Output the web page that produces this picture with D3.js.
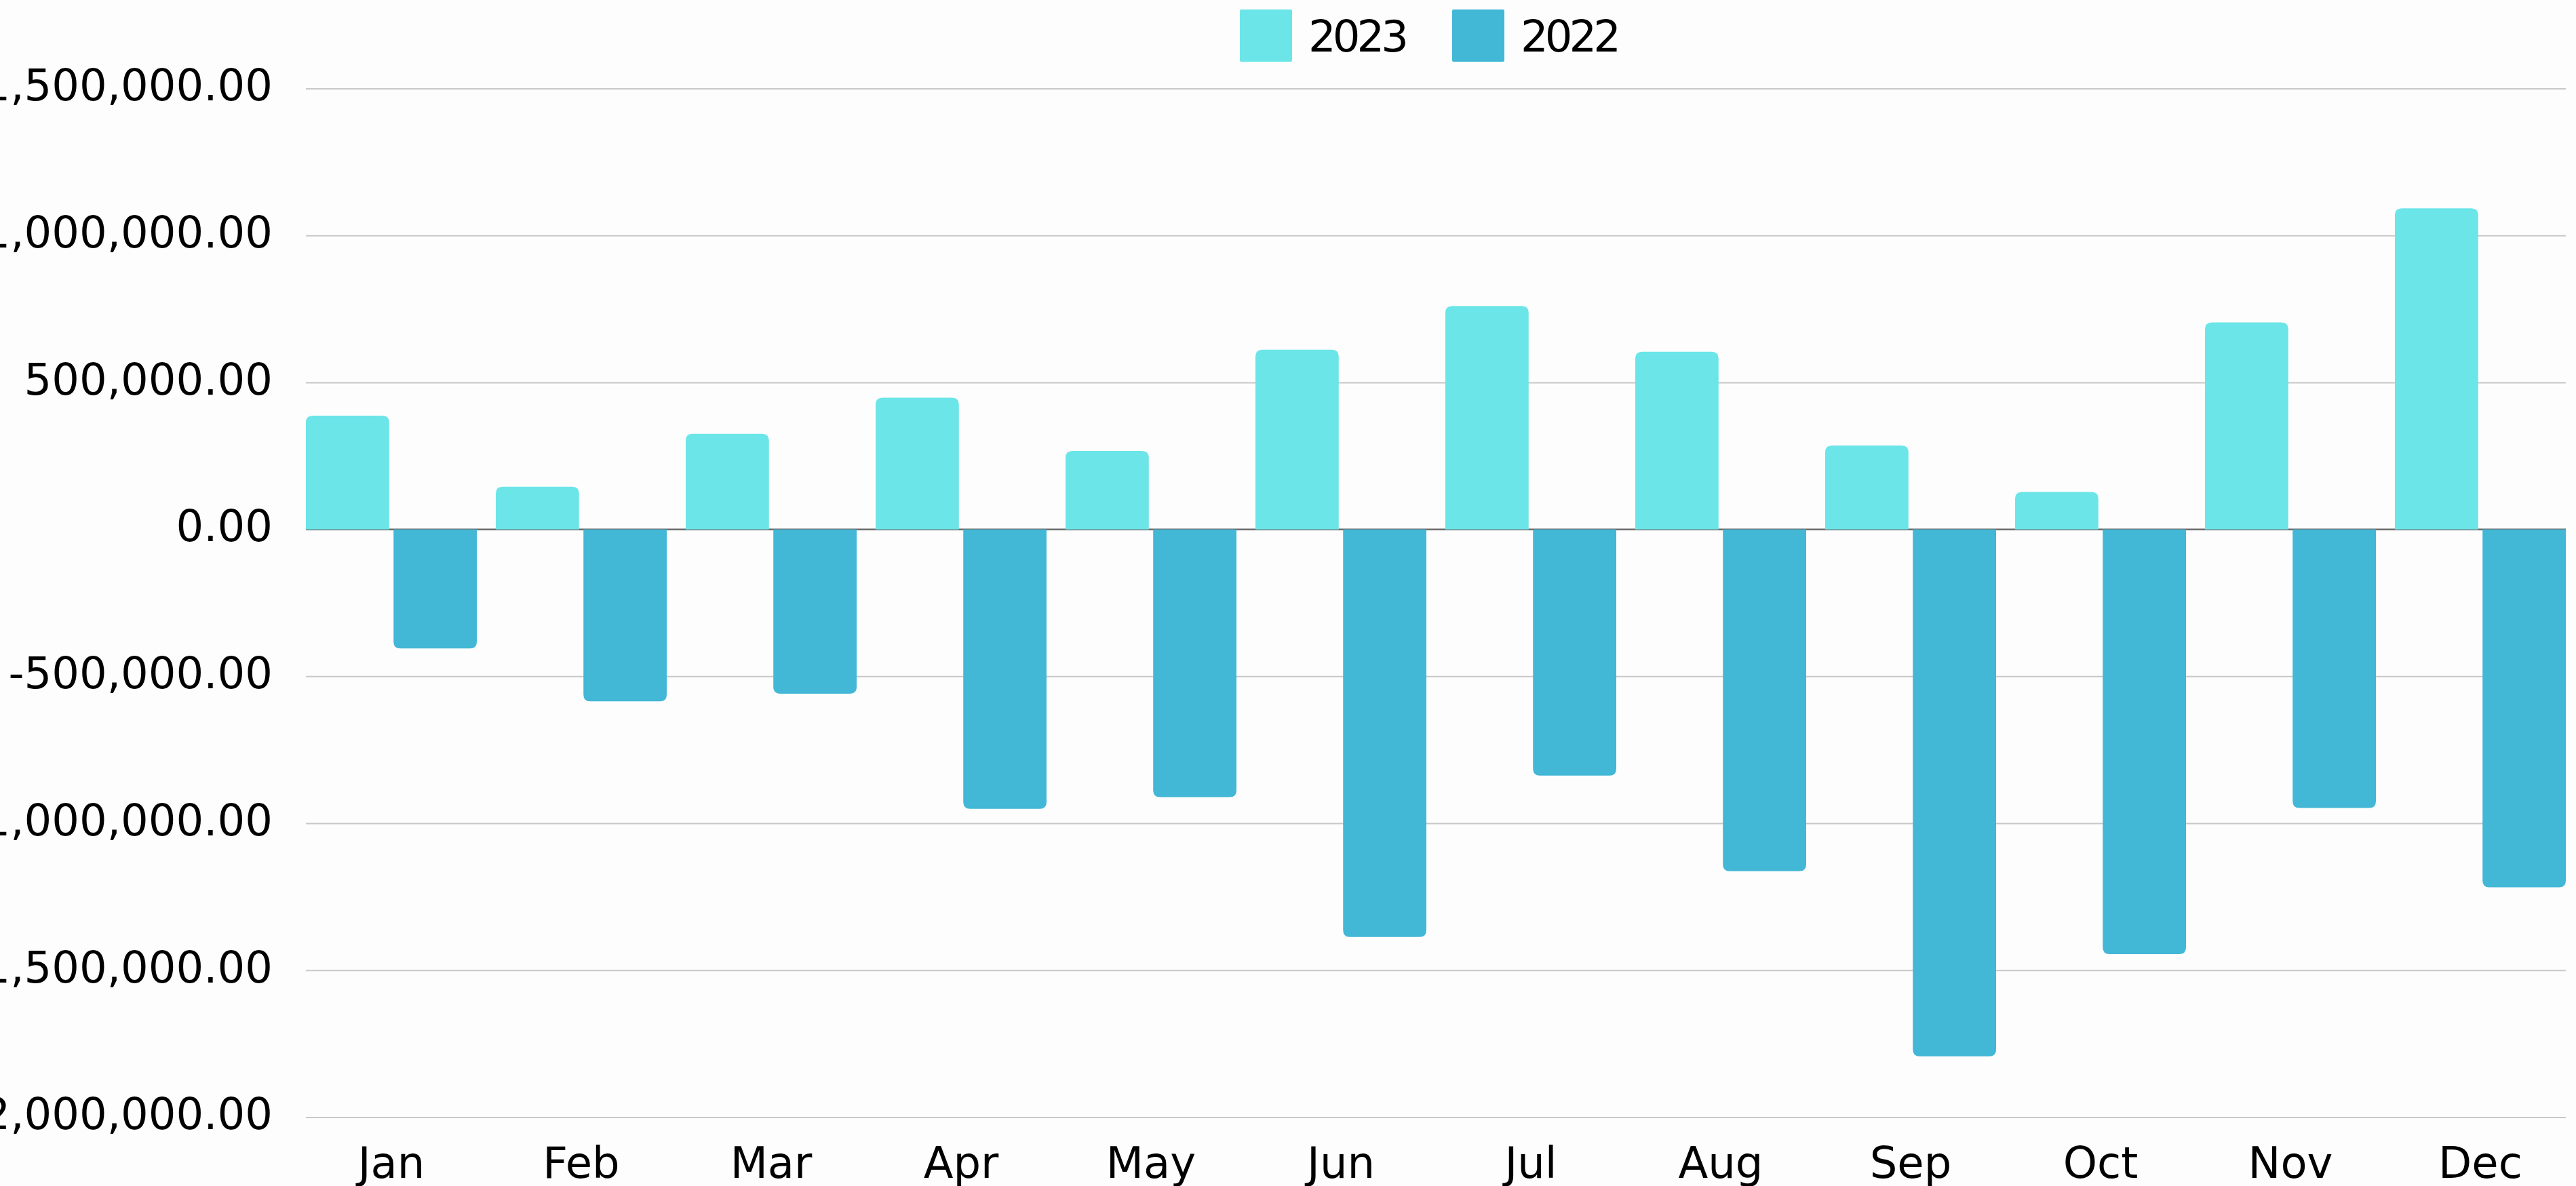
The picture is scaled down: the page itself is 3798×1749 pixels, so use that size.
<!DOCTYPE html>
<html>
<head>
<meta charset="utf-8">
<script src="https://cdn.jsdelivr.net/npm/d3@7"></script>
<style>
	body { margin: 0; background: #fdfdfd; }
	svg { display: block; }
	text { font-family: "DejaVu Sans", sans-serif; fill: #000; }
</style>
</head>
<body>
<div id="chart"></div>
<script>
var width = 3798,
	height = 1749;

// chart values
var months = ["Jan", "Feb", "Mar", "Apr", "May", "Jun", "Jul", "Aug", "Sep", "Oct", "Nov", "Dec"];
var seriesNames = ["2023", "2022"];
var values2023 = [387000, 145000, 325000, 448000, 267000, 611000, 760000, 604000, 285000, 127000, 704000, 1092000];
var values2022 = [-405000, -585000, -559000, -951000, -911000, -1387000, -838000, -1163000, -1793000, -1445000, -948000, -1218000];
var yTicks = [-2000000, -1500000, -1000000, -500000, 0, 500000, 1000000, 1500000];
var seriesColors = ["#6be5e8", "#42b7d6"];

// plot box (window.top is taken, so own names)
var plotLeft = 451,
	plotRight = 3783,
	plotTop = 130.5,
	plotBottom = 1647.5;

var rows = [];
months.forEach(function(m, i){
	rows.push({ month: m, vals: [
		{ key: "2023", value: values2023[i] },
		{ key: "2022", value: values2022[i] }
	]});
});

var color = d3.scaleOrdinal().domain(seriesNames).range(seriesColors);

var x0 = d3.scaleBand()
	.domain(months)
	.range([plotLeft, plotRight])
	.paddingInner(0.1)
	.paddingOuter(0);

var x1 = d3.scaleBand()
	.domain(seriesNames)
	.range([0, x0.bandwidth()])
	.paddingInner(0.05);

var y = d3.scaleLinear()
	.domain([-2000000, 1500000])
	.range([plotBottom, plotTop]);

var fmt = d3.formatLocale({ decimal: ".", thousands: ",", grouping: [3], currency: ["", ""], minus: "-" }).format(",.2f");

var svg = d3.select("#chart")
	.append("svg")
	.attr("width", width)
	.attr("height", height);

svg.append("rect")
	.attr("width", width)
	.attr("height", height)
	.attr("fill", "#fdfdfd");

// y axis + gridlines
var gy = svg.append("g")
	.attr("transform", "translate(" + plotLeft + ",0)")
	.call(d3.axisLeft(y)
		.tickValues(yTicks)
		.tickSize(-(plotRight - plotLeft))
		.tickPadding(49)
		.tickFormat(fmt));
gy.select(".domain").remove();
gy.selectAll(".tick line")
	.attr("stroke", "#c8c8c8")
	.attr("stroke-width", 2);
gy.selectAll(".tick text")
	.attr("dy", "0.27em")
	.style("font-size", "64px");

// x axis labels
var gx = svg.append("g")
	.attr("transform", "translate(0," + plotBottom + ")")
	.call(d3.axisBottom(x0).tickSize(0).tickPadding(44));
gx.select(".domain").remove();
gx.selectAll(".tick text")
	.style("font-size", "64px");

// zero line
svg.append("line")
	.attr("x1", plotLeft)
	.attr("x2", plotRight)
	.attr("y1", y(0))
	.attr("y2", y(0))
	.attr("stroke", "#6e6e6e")
	.attr("stroke-width", 2.5);

// bar with rounded outer end
function barPath(x, w, ya, yb, r) {
	var h = Math.abs(yb - ya);
	r = Math.min(r, h, w / 2);
	var s = yb < ya ? 1 : -1;
	return "M" + x + "," + ya +
		"V" + (yb + s * r) +
		"Q" + x + "," + yb + " " + (x + r) + "," + yb +
		"H" + (x + w - r) +
		"Q" + (x + w) + "," + yb + " " + (x + w) + "," + (yb + s * r) +
		"V" + ya + "Z";
}

var groups = svg.append("g")
	.selectAll("g")
	.data(rows)
	.enter()
	.append("g")
	.attr("transform", function(d){ return "translate(" + x0(d.month) + ",0)"; });

groups.selectAll("path")
	.data(function(d){ return d.vals; })
	.enter()
	.append("path")
	.attr("fill", function(d){ return color(d.key); })
	.attr("d", function(d){
		return barPath(x1(d.key), x1.bandwidth(), y(0), y(d.value), 10);
	});

// legend
var legendX = d3.scaleOrdinal().domain(seriesNames).range([1828, 2141]);

var legend = svg.append("g")
	.selectAll("g")
	.data(seriesNames)
	.enter()
	.append("g")
	.attr("transform", function(d){ return "translate(" + legendX(d) + ",0)"; });

legend.append("rect")
	.attr("y", 14)
	.attr("width", 77)
	.attr("height", 77)
	.attr("rx", 2)
	.attr("fill", function(d){ return color(d); });

legend.append("text")
	.attr("x", 101)
	.attr("y", 76)
	.attr("textLength", 148)
	.style("font-size", "64px")
	.text(function(d){ return d; });
</script>
</body>
</html>
